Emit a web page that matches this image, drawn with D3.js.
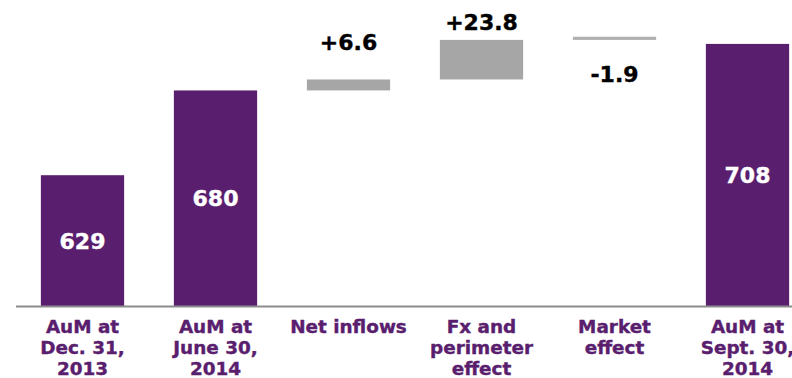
<!DOCTYPE html>
<html>
<head>
<meta charset="utf-8">
<script src="https://cdn.jsdelivr.net/npm/d3@7/dist/d3.min.js"></script>
<style>
  html, body { margin: 0; padding: 0; background: #ffffff; }
  svg { display: block; font-family: "DejaVu Sans", Verdana, sans-serif; font-weight: bold; }
</style>
</head>
<body>
<svg id="chart" width="792" height="378"></svg>
<script>
// Assets under management bridge, in EUR bn
const categories = [
  ["AuM at", "Dec. 31,", "2013"],
  ["AuM at", "June 30,", "2014"],
  ["Net inflows"],
  ["Fx and", "perimeter", "effect"],
  ["Market", "effect"],
  ["AuM at", "Sept. 30,", "2014"]
];
const values = [629, 680, 6.6, 23.8, -1.9, 708];
const kinds = ["total", "total", "delta", "delta", "delta", "total"];

// Layout
const W = 792, H = 378;
const baseY = 306.5;
const yMin = 550, yMax = 714;
const purple = "#5a1e6e";
const grey = "#a6a6a6";
// vertical nudge of each change label relative to its bar edge
const labelNudge = [0, 0, -29, -10, 42.5, 0];

const svg = d3.select("#chart");

const x = d3.scaleBand()
  .domain(d3.range(categories.length))
  .range([16, 814])
  .paddingInner(0.374)
  .paddingOuter(0.187);

const y = d3.scaleLinear()
  .domain([yMin, yMax])
  .range([baseY, baseY - (yMax - yMin) * 1.662]);

// Build bar extents: totals rise from the axis, changes float on the running total
let running = 0;
const bars = values.map((v, i) => {
  let lo, hi;
  if (kinds[i] === "total") {
    lo = yMin; hi = v; running = v;
  } else if (v >= 0) {
    lo = running; hi = running + v; running += v;
  } else {
    lo = running; hi = running - v; running += v;
  }
  return { i, v, kind: kinds[i], lo, hi };
});

const fmt = d3.formatLocale({ decimal: ".", thousands: ",", grouping: [3], currency: ["", ""], minus: "-" }).format("+.1f");

// Bars
svg.append("g").selectAll("rect")
  .data(bars)
  .join("rect")
  .attr("x", d => x(d.i))
  .attr("width", x.bandwidth())
  .attr("y", d => y(d.hi))
  .attr("height", d => y(d.lo) - y(d.hi))
  .attr("fill", d => d.kind === "total" ? purple : (d.v < 0 ? "#b0b0b0" : grey));

// Axis baseline
svg.append("line")
  .attr("x1", 16).attr("x2", W)
  .attr("y1", baseY).attr("y2", baseY)
  .attr("stroke", "#8c8c8c")
  .attr("stroke-width", 2);

// Value labels
svg.append("g").selectAll("text")
  .data(bars)
  .join("text")
  .attr("x", d => x(d.i) + x.bandwidth() / 2)
  .attr("y", d => {
    if (d.kind === "total") return (y(d.hi) + y(d.lo)) / 2 + 8;
    return (d.v >= 0 ? y(d.hi) : y(d.lo)) + labelNudge[d.i];
  })
  .attr("text-anchor", "middle")
  .attr("font-size", 22)
  .attr("fill", d => d.kind === "total" ? "#ffffff" : "#000000")
  .attr("stroke", d => d.kind === "total" ? "#ffffff" : "#000000")
  .attr("stroke-width", 0.4)
  .text(d => d.kind === "total" ? d3.format("d")(d.v) : fmt(d.v));

// Category labels
const cat = svg.append("g").selectAll("text")
  .data(categories)
  .join("text")
  .attr("x", (d, i) => x(i) + x.bandwidth() / 2)
  .attr("y", 332.5)
  .attr("text-anchor", "middle")
  .attr("font-size", 18.4)
  .attr("fill", purple)
  .attr("stroke", purple)
  .attr("stroke-width", 0.4);

cat.selectAll("tspan")
  .data(d => d)
  .join("tspan")
  .attr("x", function () { return d3.select(this.parentNode).attr("x"); })
  .attr("dy", (d, j) => j === 0 ? 0 : 21)
  .text(d => d);
</script>
</body>
</html>
